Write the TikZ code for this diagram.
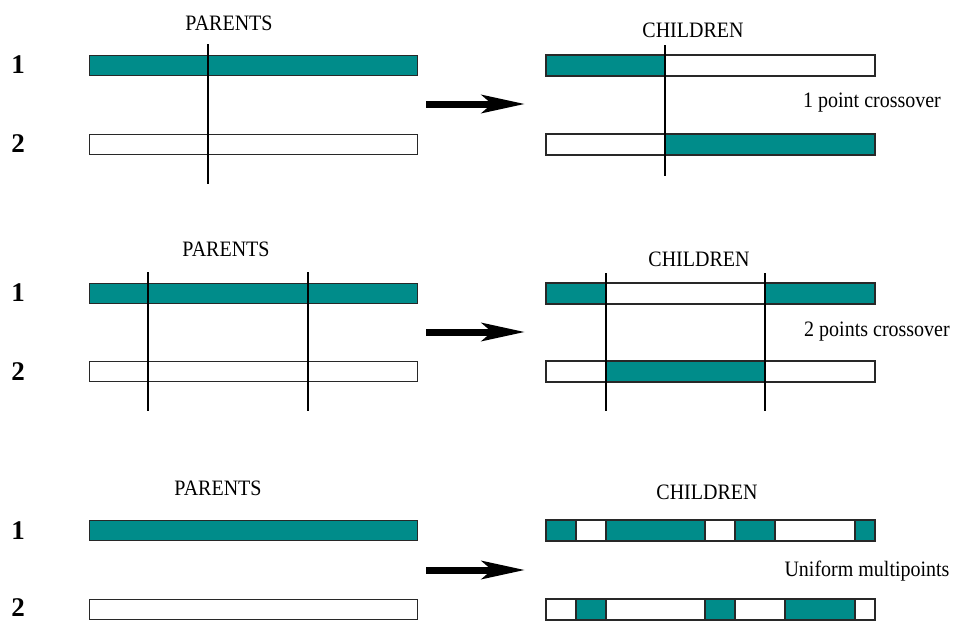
\documentclass[tikz,border=0pt]{standalone}
\usepackage{fontspec}
\setmainfont{Liberation Serif}
\usetikzlibrary{arrows.meta}
\definecolor{teal1}{RGB}{0,140,138}
\definecolor{edge}{RGB}{40,40,40}
\tikzset{
  bar/.style={draw=edge,line width=1.4pt,rectangle,inner sep=0pt,minimum width=328pt,minimum height=20pt,anchor=north west},
  tealbar/.style={bar,fill=teal1},
  whitebar/.style={bar,fill=white},
  seg/.style={fill=teal1},
  segline/.style={draw=edge,line width=1.4pt},
  cut/.style={draw=black,line width=1.2pt},
  caption/.style={font=\fontsize{20}{22}\selectfont,inner sep=0pt,yscale=1.1},
  num/.style={font=\fontsize{27}{29}\selectfont\bfseries,inner sep=0pt},
  bigarrow/.style={line width=7pt,-{Stealth[length=43pt,width=18pt,inset=10pt]}}
}
\begin{document}
\begin{tikzpicture}[x=1pt,y=-1pt]
\useasboundingbox (0,0) rectangle (953,621);

% ---------------- Section 1 ----------------
\node[caption] (p1) at (229,23) {PARENTS};
\node[caption] (c1) at (693,30) {CHILDREN};
\node[num] (n11) at (18,65) {1};
\node[num] (n12) at (18,144) {2};
\node[tealbar] (pa1) at (89,55) {};
\node[whitebar] (pb1) at (89,134) {};
% children
\node[whitebar] (ca1) at (546,55) {};
\fill[seg] (546,55) rectangle (665,75);
\node[whitebar] (cb1) at (546,134) {};
\fill[seg] (665,134) rectangle (874,154);
\draw[segline] (ca1.north west) rectangle (ca1.south east);
\draw[segline] (cb1.north west) rectangle (cb1.south east);
\coordinate (v1t) at (208,44); \coordinate (v1b) at (208,184);
\draw[cut] (v1t) -- (v1b);
\coordinate (w1t) at (665,45); \coordinate (w1b) at (665,176);
\draw[cut] (w1t) -- (w1b);
\coordinate (a1s) at (426,104); \coordinate (a1e) at (525,104);
\draw[bigarrow] (a1s) -- (a1e);
\node[caption] (t1) at (872,103) {1 point crossover};

% ---------------- Section 2 ----------------
\node[caption] (p2) at (226,249) {PARENTS};
\node[caption] (c2) at (699,259) {CHILDREN};
\node[num] (n21) at (18,293) {1};
\node[num] (n22) at (18,372) {2};
\node[tealbar] (pa2) at (89,283) {};
\node[whitebar] (pb2) at (89,361) {};
\node[whitebar] (ca2) at (546,283) {};
\fill[seg] (546,283) rectangle (606,303);
\fill[seg] (765,283) rectangle (874,303);
\node[whitebar] (cb2) at (546,361) {};
\fill[seg] (606,361) rectangle (765,381);
\draw[segline] (ca2.north west) rectangle (ca2.south east);
\draw[segline] (cb2.north west) rectangle (cb2.south east);
\coordinate (v2at) at (148,272); \coordinate (v2ab) at (148,411);
\coordinate (v2bt) at (308,272); \coordinate (v2bb) at (308,411);
\draw[cut] (v2at) -- (v2ab);
\draw[cut] (v2bt) -- (v2bb);
\coordinate (w2at) at (606,273); \coordinate (w2ab) at (606,411);
\coordinate (w2bt) at (765,273); \coordinate (w2bb) at (765,411);
\draw[cut] (w2at) -- (w2ab);
\draw[cut] (w2bt) -- (w2bb);
\coordinate (a2s) at (426,332); \coordinate (a2e) at (525,332);
\draw[bigarrow] (a2s) -- (a2e);
\node[caption] (t2) at (877,332) {2 points crossover};

% ---------------- Section 3 ----------------
\node[caption] (p3) at (218,488) {PARENTS};
\node[caption] (c3) at (707,492) {CHILDREN};
\node[num] (n31) at (18,531) {1};
\node[num] (n32) at (18,608) {2};
\node[tealbar] (pa3) at (89,520) {};
\node[whitebar] (pb3) at (89,599) {};
\node[whitebar] (ca3) at (546,520) {};
\fill[seg] (546,520) rectangle (576,540);
\fill[seg] (606,520) rectangle (705,540);
\fill[seg] (735,520) rectangle (775,540);
\fill[seg] (855,520) rectangle (874,540);
\foreach \x in {576,606,705,735,775,855} \draw[segline] (\x,520) -- (\x,540);
\draw[segline] (ca3.north west) rectangle (ca3.south east);
\node[whitebar] (cb3) at (546,599) {};
\fill[seg] (576,599) rectangle (606,619);
\fill[seg] (705,599) rectangle (735,619);
\fill[seg] (785,599) rectangle (855,619);
\foreach \x in {576,606,705,735,785,855} \draw[segline] (\x,599) -- (\x,619);
\draw[segline] (cb3.north west) rectangle (cb3.south east);
\coordinate (a3s) at (426,570); \coordinate (a3e) at (525,570);
\draw[bigarrow] (a3s) -- (a3e);
\node[caption] (t3) at (867,571) {Uniform multipoints};
\end{tikzpicture}
\end{document}
